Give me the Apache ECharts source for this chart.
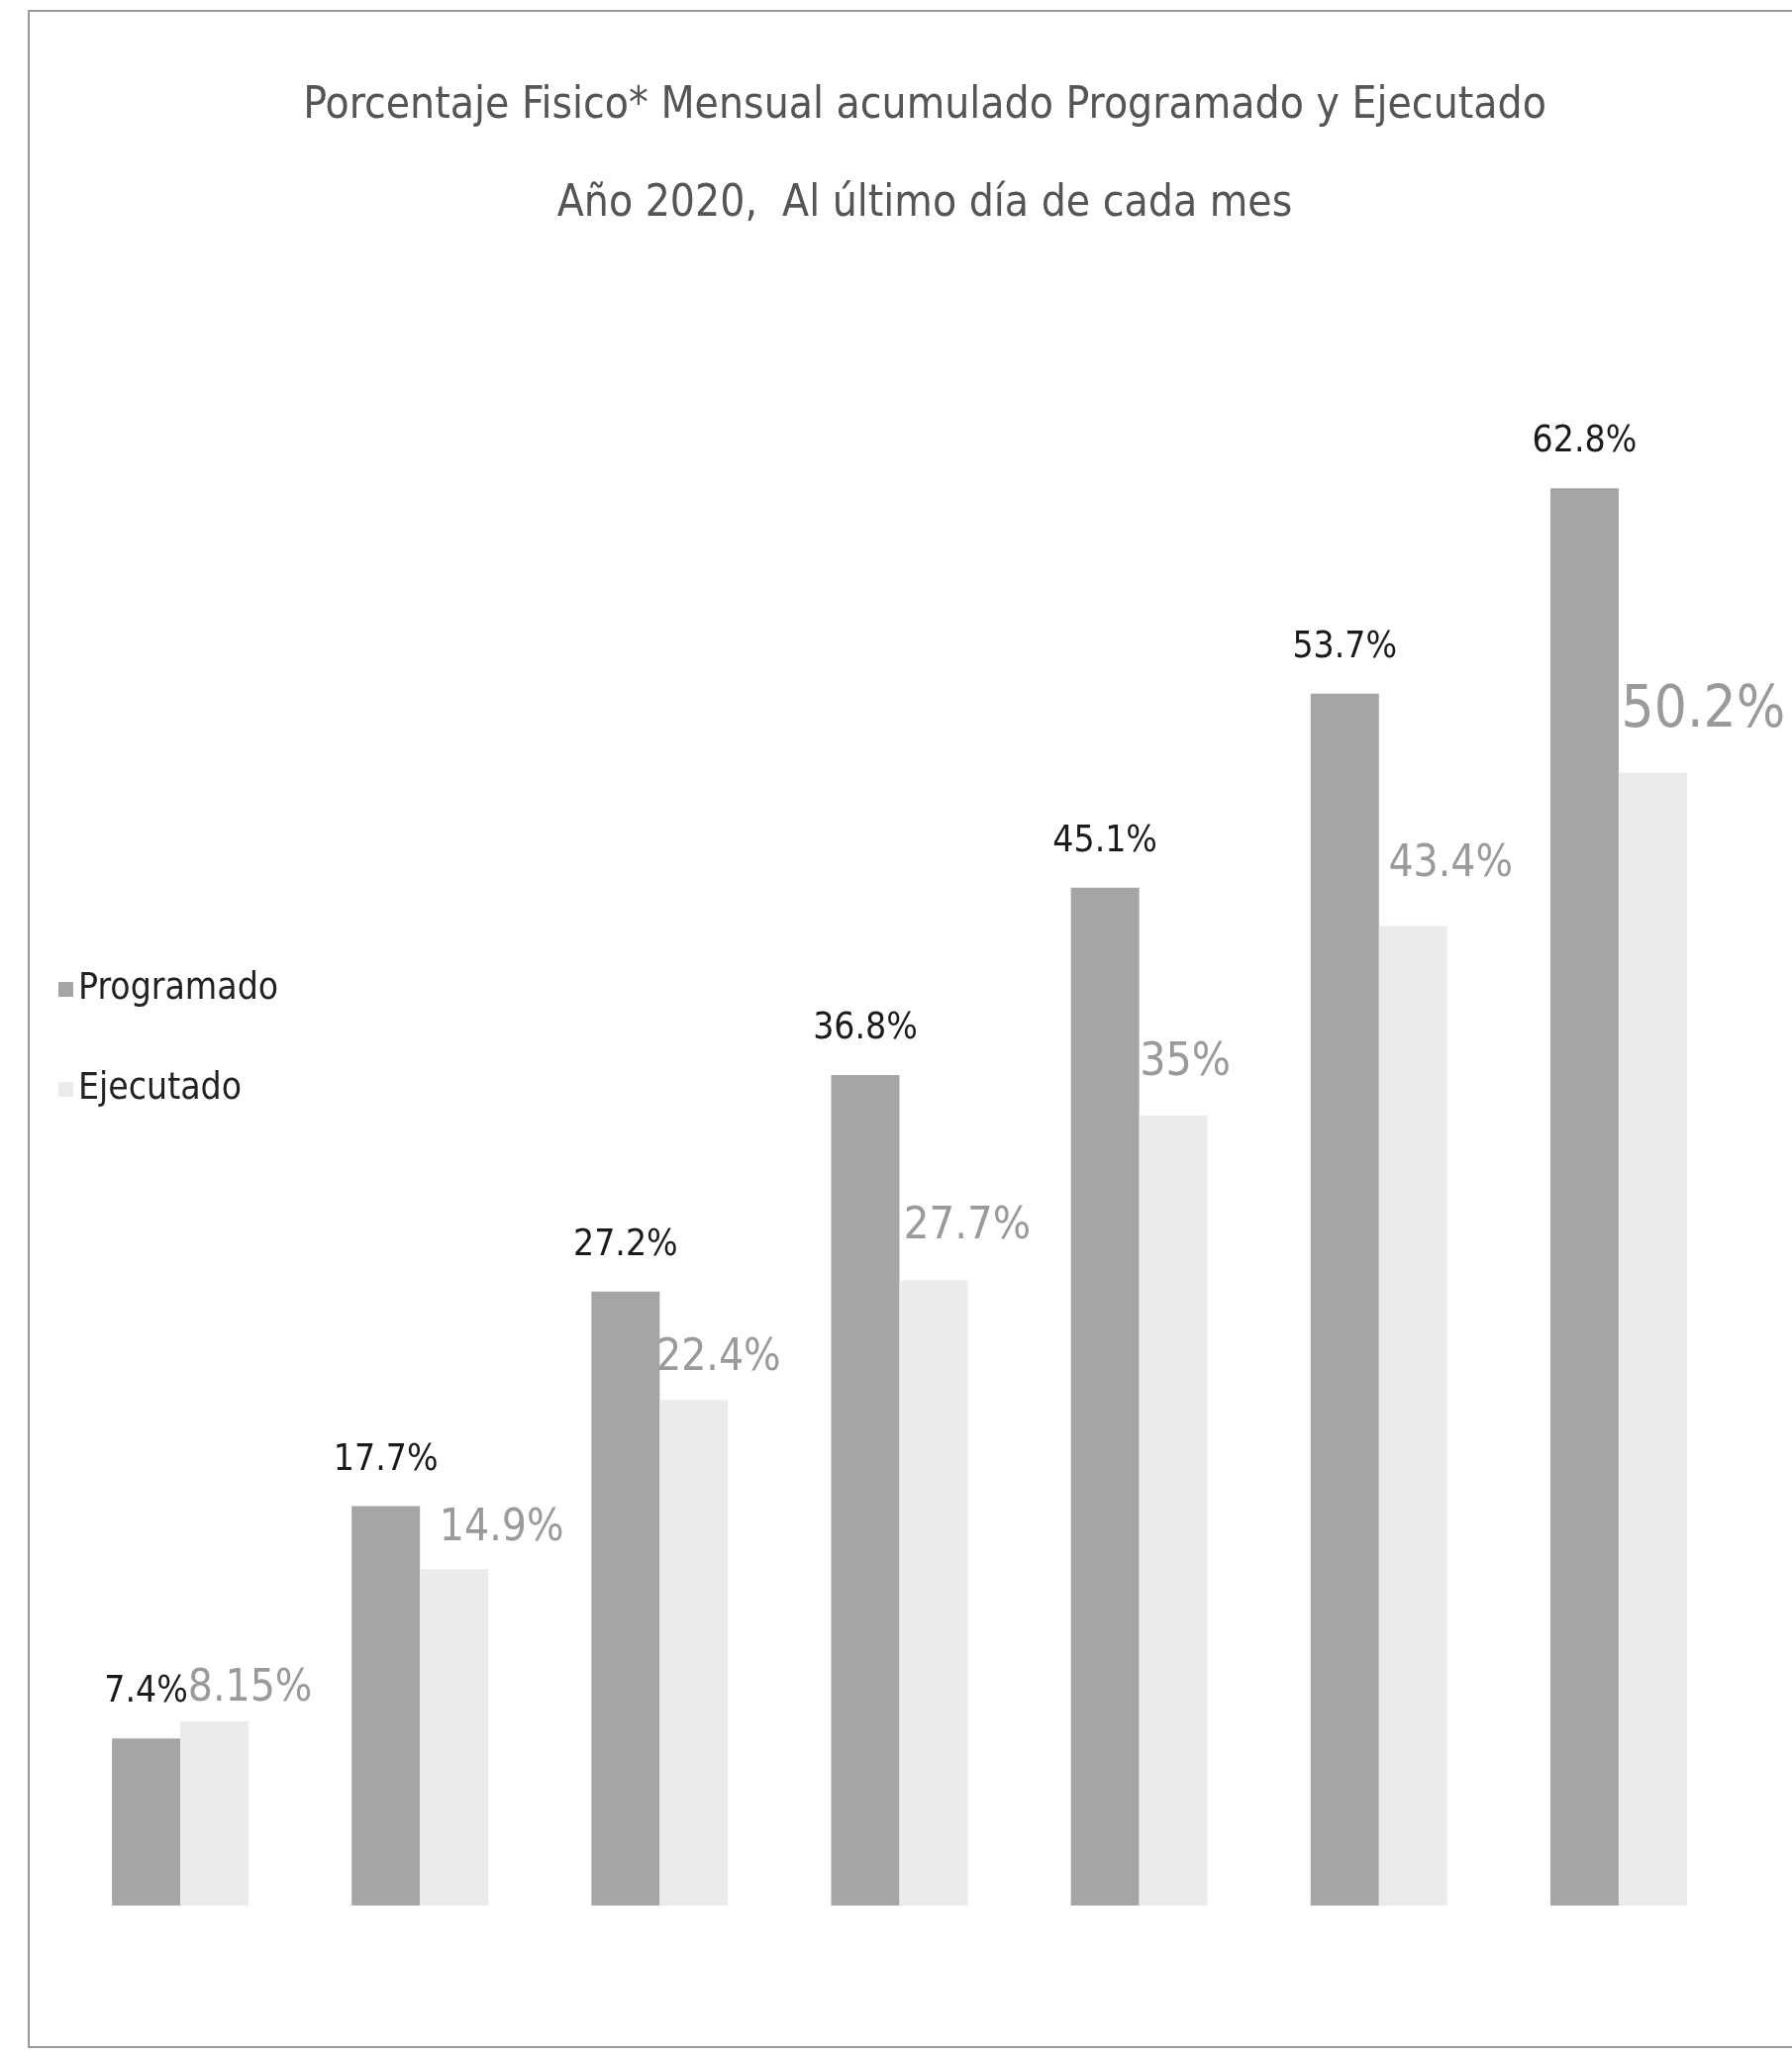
<!DOCTYPE html>
<html>
<head>
<meta charset="utf-8">
<style>
html,body{margin:0;padding:0;background:#fff;}
#chart{width:1810px;height:2076px;}
</style>
<script src="https://cdn.jsdelivr.net/npm/echarts@6/dist/echarts.min.js"></script>
</head>
<body>
<div id="chart"></div>
<script>
var categories = ['Ene', 'Feb', 'Mar', 'Abr', 'May', 'Jun', 'Jul'];
var programado = [7.4, 17.7, 27.2, 36.8, 45.1, 53.7, 62.8];
var ejecutado = [8.15, 14.9, 22.4, 27.7, 35, 43.4, 50.2];

// label styling for Ejecutado values (kept apart from the data)
var ejecLabelSize = [44, 44, 44, 45, 46, 44, 58];
var ejecLabelOffset = [[36, -6], [48, -14], [25, -15], [34, -27], [12, -25], [38, -35], [51, -28]];

var FONT = "'Liberation Sans Narrow', 'DejaVu Sans Condensed', 'Roboto Condensed', 'Liberation Sans', sans-serif";

var chart = echarts.init(document.getElementById('chart'), null, {renderer: 'canvas'});

var ejecData = ejecutado.map(function (v, i) {
  return {
    value: v,
    label: {fontSize: ejecLabelSize[i], offset: ejecLabelOffset[i]}
  };
});

chart.setOption({
  backgroundColor: '#ffffff',
  animation: false,
  textStyle: {fontFamily: FONT},
  title: {
    text: 'Porcentaje Fisico* Mensual acumulado Programado y Ejecutado\nAño 2020,  Al último día de cada mes',
    left: 929,
    textAlign: 'center',
    top: 53,
    textStyle: {fontFamily: FONT, fontSize: 44, fontWeight: 'normal', color: '#555555', lineHeight: 99}
  },
  legend: {
    orient: 'vertical',
    left: 54,
    top: 976,
    itemWidth: 15,
    itemHeight: 15,
    itemGap: 64,
    icon: 'rect',
    textStyle: {fontFamily: FONT, fontSize: 37, color: '#222222', padding: [0, 0, 0, 0]},
    data: ['Programado', 'Ejecutado']
  },
  grid: {left: 61, right: 54, top: 329, bottom: 151, containLabel: false},
  xAxis: {
    type: 'category',
    data: categories,
    axisLine: {show: false},
    axisTick: {show: false},
    axisLabel: {show: false},
    splitLine: {show: false}
  },
  yAxis: {
    type: 'value',
    min: 0,
    max: 70,
    interval: 10,
    axisLine: {show: false},
    axisTick: {show: false},
    axisLabel: {show: false},
    splitLine: {show: false}
  },
  graphic: [{
    type: 'rect',
    shape: {x: 29, y: 11, width: 1800, height: 2057},
    style: {fill: 'none', stroke: '#9a9a9a', lineWidth: 2},
    silent: true
  }],
  series: [
    {
      name: 'Programado',
      type: 'bar',
      data: programado,
      barWidth: 69,
      barGap: '0%',
      itemStyle: {color: '#a5a5a5'},
      label: {
        show: true,
        position: 'top',
        distance: 28,
        fontFamily: FONT,
        fontSize: 37,
        color: '#1a1a1a',
        formatter: function (p) { return p.value + '%'; }
      }
    },
    {
      name: 'Ejecutado',
      type: 'bar',
      data: ejecData,
      barWidth: 69,
      barGap: '0%',
      itemStyle: {color: '#ebebeb'},
      label: {
        show: true,
        position: 'top',
        distance: 5,
        fontFamily: FONT,
        color: '#9a9a9a',
        formatter: function (p) { return p.value + '%'; }
      }
    }
  ]
});
</script>
</body>
</html>
